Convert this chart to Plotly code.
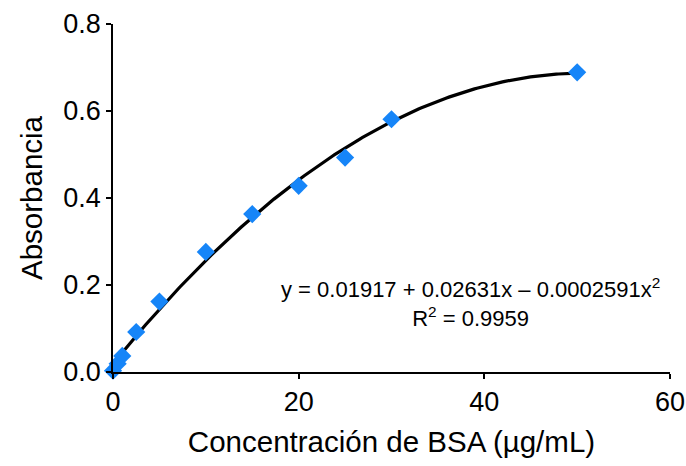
import numpy as np
import plotly.graph_objects as go

# Data
conc = [0, 0.5, 1, 2.5, 5, 10, 15, 20, 25, 30, 50]
absorb = [0.003, 0.019, 0.037, 0.092, 0.162, 0.276, 0.363, 0.428, 0.493, 0.581, 0.689]

# Quadratic trendline coefficients as printed on the chart
coef_c = [0.01917, 0.02631, -0.0002591]
r2 = 0.9959

x_ticks = [0, 20, 40, 60]
y_ticks = [0.0, 0.2, 0.4, 0.6, 0.8]

xf = np.linspace(min(conc), max(conc), 200)
yf = coef_c[0] + coef_c[1] * xf + coef_c[2] * xf ** 2

FONT = "Liberation Sans, Arial, sans-serif"

L, R, T, B = 113, 16, 24, 94
W, H = 686, 466
pw, ph = W - L - R, H - T - B

fig = go.Figure()
fig.add_trace(go.Scatter(x=xf, y=yf, mode="lines",
                         line=dict(color="black", width=3.2),
                         showlegend=False, hoverinfo="skip", cliponaxis=False))
fig.add_trace(go.Scatter(x=conc, y=absorb, mode="markers",
                         marker=dict(symbol="diamond", size=14, color="#1685F8"),
                         showlegend=False, cliponaxis=False))

fig.add_annotation(
    x=(470 - L) / pw, y=1 - (302 - T) / ph, xref="paper", yref="paper",
    xanchor="center", yanchor="middle", showarrow=False,
    text="y = 0.01917 + 0.02631x \u2013 0.0002591x<sup>2</sup><br>R<sup>2</sup> = " + f"{r2}",
    font=dict(family=FONT, size=22, color="black"), align="center",
)

axis_common = dict(
    showgrid=False, zeroline=False, showline=True, linecolor="black", linewidth=1.5,
    ticks="outside", ticklen=5, tickwidth=1.5, tickcolor="black",
    tickfont=dict(family=FONT, size=27, color="black"),
)

fig.update_layout(
    width=W, height=H,
    margin=dict(l=L, r=R, t=T, b=B),
    paper_bgcolor="white", plot_bgcolor="white",
    xaxis=dict(range=[0, 60], tickvals=x_ticks, ticktext=[str(v) for v in x_ticks],
               title=dict(text="Concentración de BSA (µg/mL)",
                          font=dict(family=FONT, size=29.5, color="black"), standoff=15),
               automargin=False, **axis_common),
    yaxis=dict(range=[0, 0.8], tickvals=y_ticks, ticktext=[f"{v:.1f}" for v in y_ticks],
               title=dict(text="Absorbancia",
                          font=dict(family=FONT, size=29.5, color="black"), standoff=12),
               automargin=False, **axis_common),
)

fig.write_html("out.html")
